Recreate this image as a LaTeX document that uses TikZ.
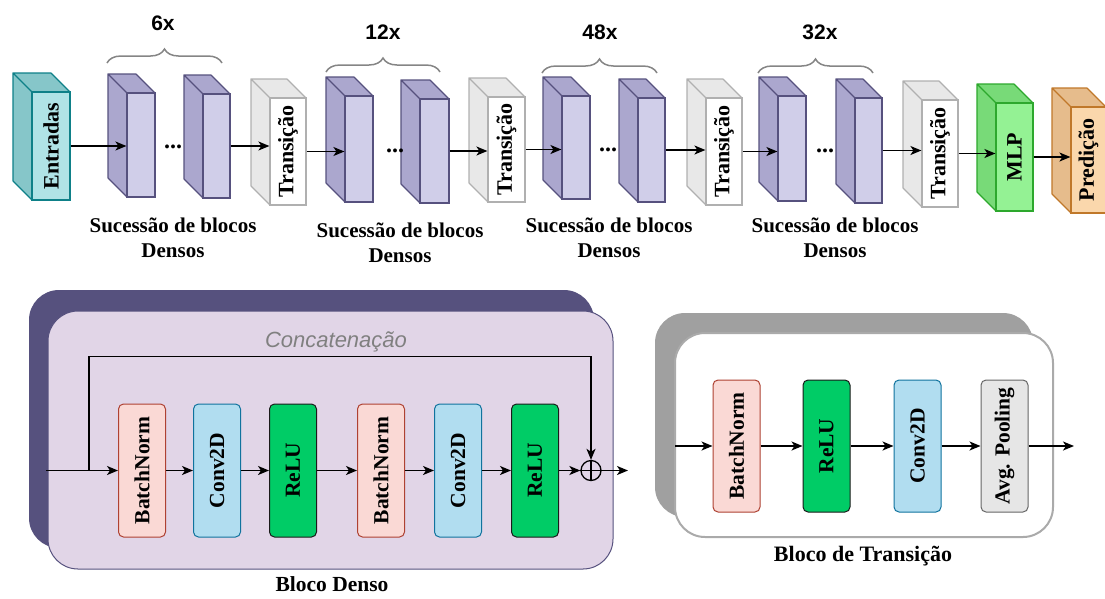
\documentclass[tikz,border=0pt]{standalone}
\usepackage{fontspec}
\setmainfont{Liberation Serif}
\setsansfont{Liberation Sans}
\usepackage{graphicx}
\usetikzlibrary{arrows.meta,positioning,decorations.pathreplacing,calc}
% cube colours: F front, S side, L line
\definecolor{entF}{HTML}{B0E3E6}
\definecolor{entS}{HTML}{86C6C9}
\definecolor{entL}{HTML}{0E8088}
\definecolor{dnsF}{HTML}{D0CEE9}
\definecolor{dnsS}{HTML}{ABA7CE}
\definecolor{dnsL}{HTML}{56517E}
\definecolor{trnF}{HTML}{FFFFFF}
\definecolor{trnS}{HTML}{E8E8E8}
\definecolor{trnL}{HTML}{B0B0B0}
\definecolor{mlpF}{HTML}{94F294}
\definecolor{mlpS}{HTML}{78DA78}
\definecolor{mlpL}{HTML}{2DA82D}
\definecolor{preF}{HTML}{FAD7AC}
\definecolor{preS}{HTML}{E6BC8C}
\definecolor{preL}{HTML}{C0782A}
% inner blocks
\definecolor{bnF}{HTML}{FAD9D5}
\definecolor{bnL}{HTML}{AE4132}
\definecolor{cvF}{HTML}{B1DDF0}
\definecolor{cvL}{HTML}{10739E}
\definecolor{reF}{HTML}{00CC66}
\definecolor{reL}{HTML}{1A1A1A}
\definecolor{avF}{HTML}{E6E6E6}
\definecolor{avL}{HTML}{666666}
\definecolor{dnsbg}{HTML}{E1D5E7}
\definecolor{trshadow}{HTML}{A0A0A0}
\definecolor{trborder}{HTML}{AAAAAA}
\definecolor{bracec}{HTML}{858585}
\definecolor{concc}{HTML}{808080}
\tikzset{
  ar/.style={-{Stealth[length=11pt,width=9pt,inset=3pt]},line width=1.6pt,black},
  face/.style={draw,line width=1.2pt,inner sep=0pt,font=\bfseries\fontsize{22}{26}\selectfont},
  blk/.style={draw,line width=1pt,rounded corners=5pt,minimum width=47pt,inner sep=0pt,font=\bfseries\fontsize{21.5}{24}\selectfont},
  chave/.style={decorate,decoration={brace,amplitude=14pt},draw=bracec,line width=1.5pt},
  rep/.style={font=\sffamily\bfseries\fontsize{21}{24}\selectfont},
  legenda/.style={font=\bfseries\fontsize{21}{25}\selectfont,align=center},
  pontos/.style={font=\bfseries\fontsize{24}{26}\selectfont,inner sep=0pt}
}
% name, x1, y1, x2, y2 (front face), kind, text
\newcommand{\cubo}[7]{%
  \filldraw[fill=#6S,draw=#6L,line width=1.2pt,line join=round]
    (#2,#3) -- (#2-19,#3-19) -- (#4-19,#3-19) -- (#4,#3) -- cycle
    (#2,#3) -- (#2-19,#3-19) -- (#2-19,#5-19) -- (#2,#5) -- cycle;
  \node[face,fill=#6F,draw=#6L,minimum width={(#4-#2)*1pt},minimum height={(#5-#3)*1pt}]
    (#1) at ({(#2+#4)/2},{(#3+#5)/2}) {\rotatebox{90}{#7}};
}

\begin{document}
\begin{tikzpicture}[x=1pt,y=-1pt]
\useasboundingbox (0,0) rectangle (1105,598);
\clip (0,0) rectangle (1105,598);

% top row
\cubo{ent}{32}{92}{70}{200}{ent}{Entradas}
\cubo{d1a}{127}{93}{155}{197}{dns}{}
\cubo{d1b}{203}{94}{230}{198}{dns}{}
\cubo{t1}{270}{98}{306}{205}{trn}{Transição}
\cubo{d2a}{345}{96}{373}{202}{dns}{}
\cubo{d2b}{420}{99}{449}{203}{dns}{}
\cubo{t2}{488}{97}{525}{202}{trn}{Transição}
\cubo{d3a}{562}{96}{590}{199}{dns}{}
\cubo{d3b}{638}{98}{665}{202}{dns}{}
\cubo{t3}{706}{98}{742}{205}{trn}{Transição}
\cubo{d4a}{778}{96}{806}{201}{dns}{}
\cubo{d4b}{855}{98}{882}{203}{dns}{}
\cubo{t4}{922}{100}{958}{207}{trn}{Transição}
\cubo{mlp}{996}{103}{1033}{211}{mlp}{MLP}
\cubo{pred}{1071}{107}{1106}{213}{pre}{Predição}

\node[pontos] (p1) at (173,147) {...};
\node[pontos] (p2) at (395,151) {...};
\node[pontos] (p3) at (608,150) {...};
\node[pontos] (p4) at (825,151) {...};

\foreach \a/\b in {ent/d1a,d1b/t1,t1/d2a,d2b/t2,t2/d3a,d3b/t3,t3/d4a,d4b/t4,t4/mlp,mlp/pred}
  \draw[ar] (\a.east) -- (\a.east -| \b.west);

% braces
\draw[chave] (107,63) -- (222,63);
\draw[chave] (326,72) -- (440,72);
\draw[chave] (542,73) -- (657,73);
\draw[chave] (758,73) -- (873,73);
\node[rep] (n1) at (163,23) {6x};
\node[rep] (n2) at (383,32) {12x};
\node[rep] (n3) at (600,32) {48x};
\node[rep] (n4) at (820,32) {32x};

\node[legenda] (s1) at (173,238) {Sucessão de blocos\\Densos};
\node[legenda] (s2) at (400,243) {Sucessão de blocos\\Densos};
\node[legenda] (s3) at (609,238) {Sucessão de blocos\\Densos};
\node[legenda] (s4) at (835,238) {Sucessão de blocos\\Densos};

% dense block
\fill[dnsL,rounded corners=30pt] (29,290) rectangle (594,548);
\filldraw[fill=dnsbg,draw=dnsL,line width=1pt,rounded corners=30pt] (48,311) rectangle (613,569);
\node[blk,minimum height=133pt,fill=bnF,draw=bnL] (bn1) at (142,470.5) {\rotatebox{90}{BatchNorm}};
\node[blk,minimum height=133pt,fill=cvF,draw=cvL,right=27pt of bn1] (cv1) {\rotatebox{90}{Conv2D}};
\node[blk,minimum height=133pt,fill=reF,draw=reL,right=28pt of cv1] (re1) {\rotatebox{90}{ReLU}};
\node[blk,minimum height=133pt,fill=bnF,draw=bnL,right=40pt of re1] (bn2) {\rotatebox{90}{BatchNorm}};
\node[blk,minimum height=133pt,fill=cvF,draw=cvL,right=29pt of bn2] (cv2) {\rotatebox{90}{Conv2D}};
\node[blk,minimum height=133pt,fill=reF,draw=reL,right=29pt of cv2] (re2) {\rotatebox{90}{ReLU}};
\node[circle,draw,line width=1.3pt,minimum size=20pt,inner sep=0pt] (soma) at (591,470.5) {};
\draw[line width=1.3pt] (soma.north) -- (soma.south) (soma.west) -- (soma.east);
\coordinate (entD) at (46,470.5);
\coordinate (ramo) at (89,470.5);
\coordinate (saiD) at (628,470.5);
\draw[line width=1.6pt] (entD) -- (ramo);
\draw[ar] (ramo) -- (bn1);
\draw[ar] (ramo) -- ++(0,-114) -| (soma.north);
\foreach \a/\b in {bn1/cv1,cv1/re1,re1/bn2,bn2/cv2,cv2/re2,re2/soma,soma/saiD}
  \draw[ar] (\a) -- (\b);
\node[font=\sffamily\itshape\fontsize{22}{24}\selectfont,text=concc] (conc) at (336,342) {Concatenação};
\node[legenda,font=\bfseries\fontsize{21.5}{25}\selectfont,inner sep=1pt] (tdenso) at (332,584) {Bloco Denso};

% transition block
\fill[trshadow,rounded corners=30pt] (655,313) rectangle (1033,517);
\filldraw[fill=white,draw=trborder,line width=2pt,rounded corners=30pt] (675,333) rectangle (1053,537);
\node[blk,minimum height=132pt,fill=bnF,draw=bnL] (bn3) at (736.5,446) {\rotatebox{90}{BatchNorm}};
\node[blk,minimum height=132pt,fill=reF,draw=reL,right=42pt of bn3] (re3) {\rotatebox{90}{ReLU}};
\node[blk,minimum height=132pt,fill=cvF,draw=cvL,right=43pt of re3] (cv3) {\rotatebox{90}{Conv2D}};
\node[blk,minimum height=132pt,fill=avF,draw=avL,right=39pt of cv3] (avg) {\rotatebox{90}{Avg. Pooling}};
\coordinate (entT) at (675,446);
\coordinate (saiT) at (1074,446);
\foreach \a/\b in {entT/bn3,bn3/re3,re3/cv3,cv3/avg,avg/saiT}
  \draw[ar] (\a) -- (\b);
\node[legenda,font=\bfseries\fontsize{22}{25}\selectfont] (ttrans) at (863,556) {Bloco de Transição};
\end{tikzpicture}
\end{document}
